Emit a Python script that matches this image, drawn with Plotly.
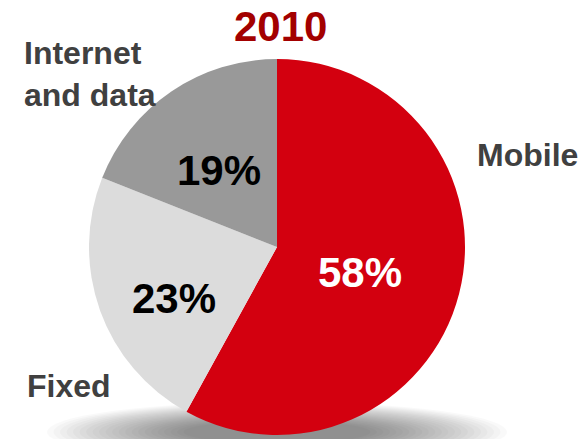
import plotly.graph_objects as go

labels = ["Mobile", "Fixed", "Internet and data"]
values = [58, 23, 19]
colors = ["#d3000f", "#dcdcdc", "#999999"]
pct_text_colors = ["#ffffff", "#000000", "#000000"]
title_text = "2010"

W, H = 580, 439
FONT = "Arial, Liberation Sans, sans-serif"

def px(x, y):
    return x / W, 1 - y / H

fig = go.Figure()
fig.add_trace(go.Pie(
    labels=labels, values=values, sort=False, direction="clockwise", rotation=0,
    marker=dict(colors=colors, line=dict(width=0)),
    textinfo="none", hoverinfo="label+percent", showlegend=False,
    domain=dict(x=[88 / W, 466 / W], y=[1 - 435 / H, 1 - 59 / H]),
))

# soft shadow under the pie
shapes = []
n = 22
for i in range(n):
    rx = 230 - i * 6.5
    ry = 30 - i * 0.9
    cx, cy = 277, 432
    x0, y0 = px(cx - rx, cy - ry)
    x1, y1 = px(cx + rx, cy + ry)
    shapes.append(dict(type="circle", xref="paper", yref="paper", x0=x0, y0=y0, x1=x1, y1=y1,
                       fillcolor="rgba(0,0,0,0.022)", line=dict(width=0), layer="below"))

annotations = []
# percentages
pct_pos = [(360, 272), (174, 298), (219, 170)]
for v, (x, y), c in zip(values, pct_pos, pct_text_colors):
    ax, ay = px(x, y)
    annotations.append(dict(text=f"<b>{v}%</b>", x=ax, y=ay, xref="paper", yref="paper",
                            showarrow=False, xanchor="center", yanchor="middle",
                            font=dict(family=FONT, size=42, color=c)))
# category labels
lab_specs = [
    ("Mobile", 527, 155, "center"),
    ("Fixed", 69, 386, "center"),
    ("Internet<br>and data", 22, 74, "left"),
]
for t, x, y, al in lab_specs:
    ax, ay = px(x, y)
    annotations.append(dict(text=f"<b>{t}</b>", x=ax, y=ay, xref="paper", yref="paper",
                            showarrow=False, xanchor="left" if al == "left" else "center",
                            yanchor="middle", align=al,
                            font=dict(family=FONT, size=32, color="#404040")))
tx, ty = px(280, 26)
annotations.append(dict(text=f"<b>{title_text}</b>", x=tx, y=ty, xref="paper", yref="paper",
                        showarrow=False, xanchor="center", yanchor="middle",
                        font=dict(family=FONT, size=42, color="#a30000")))

fig.update_layout(width=W, height=H, margin=dict(l=0, r=0, t=0, b=0),
                  paper_bgcolor="white", plot_bgcolor="white",
                  shapes=shapes, annotations=annotations)
fig.write_html("out.html")
